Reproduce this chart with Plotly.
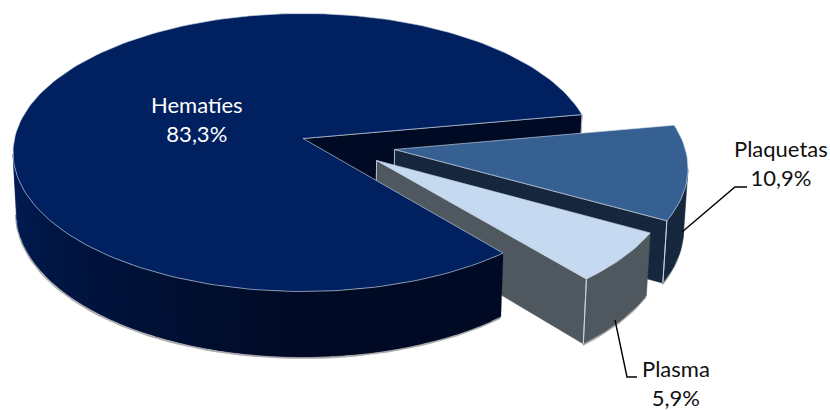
import math
import plotly.graph_objects as go

# ---- data ----
categories = ["Plaquetas", "Plasma", "Hematíes"]
values = [10.9, 5.9, 83.3]
value_labels = ["10,9%", "5,9%", "83,3%"]

# ---- styles ----
top_colors = ["#366092", "#c5d9f1", "#002060"]
side_colors = ["#16263c", "#50585f", "#000a24"]
explode = [(0.315, 0.079), (0.251, 0.157), (0.0, 0.0)]  # disc units
START_DEG = -10.2

# ---- projection of the tilted disc on the page ----
CX, CY = 303.0, 138.5
RX, RY, K = 288.5, 137.6, 0.1007
DEPTH, BOTTOM_SCALE = 58.8, 0.989
RIM = "rgba(205,215,230,0.85)"


def project(c, s, bottom=False):
    w = 1 - K * s
    x = RX * c / w
    y = RY * s / w
    if bottom:
        return CX + x * BOTTOM_SCALE, CY + y + DEPTH / w
    return CX + x, CY + y


def hexmix(a, b, t):
    pa = [int(a[i:i + 2], 16) for i in (1, 3, 5)]
    pb = [int(b[i:i + 2], 16) for i in (1, 3, 5)]
    return "#%02x%02x%02x" % tuple(round(p + (q - p) * t) for p, q in zip(pa, pb))


fig = go.Figure()


def poly(points, fill, line=None, width=0.75):
    fig.add_trace(go.Scatter(
        x=[p[0] for p in points] + [points[0][0]],
        y=[p[1] for p in points] + [points[0][1]],
        mode="lines", fill="toself", fillcolor=fill,
        line=dict(color=line or fill, width=width),
        hoverinfo="skip", showlegend=False))


def path(points, color, width=0.75):
    fig.add_trace(go.Scatter(
        x=[p[0] for p in points], y=[p[1] for p in points], mode="lines",
        line=dict(color=color, width=width), hoverinfo="skip", showlegend=False))


def arc(a0, a1, step=1.5):
    n = max(2, int(abs(a1 - a0) / step) + 1)
    return [a0 + (a1 - a0) * i / (n - 1) for i in range(n)]


def rim(a, off):
    r = math.radians(a)
    return math.cos(r) + off[0], math.sin(r) + off[1]


def front_facing(a, off):
    r = math.radians(a)
    c, s = math.cos(r), math.sin(r)
    return s > K * (1 + off[0] * c + off[1] * s)


def cut_faces(a0, a1, off, color):
    """Radial faces that turn towards the viewer."""
    v = off
    for a, inward in ((a0, a0 + 2), (a1, a1 - 2)):
        vx, vy = project(*v)
        rx, ry = project(*rim(a, off))
        ix, iy = project(*rim(inward, off))
        edge_y = vy + (ry - vy) * (ix - vx) / (rx - vx)
        if iy < edge_y:  # slice lies above this edge, so the face shows
            pts = [(vx, vy), (rx, ry), project(*rim(a, off), True), project(*v, True)]
            poly(pts, color)
            path(pts[:2], RIM)
            path([pts[1], pts[2]], RIM, 1)
            path([pts[0], pts[3]], RIM, 1)


def side_shade(a, base, lighter):
    # the lit end sits on the left of the pie, the dark end on the right
    return hexmix(base, lighter, max(0.0, min(1.0, (a - 90) / 85)))


def outer_side(a0, a1, off, base, lighter):
    vis = [a for a in arc(a0, a1, 2.5) if front_facing(a, off)]
    if len(vis) < 2:
        return
    low = [project(*rim(a, off), True) for a in arc(vis[0], vis[-1])]
    path([(x - 0.5, y + 1.2) for x, y in low], "rgba(90,90,90,0.5)", 1.8)
    if base == lighter:
        up = [project(*rim(a, off)) for a in arc(vis[0], vis[-1])]
        dn = [project(*rim(a, off), True) for a in arc(vis[-1], vis[0])]
        poly(up + dn, base, width=0.5)
        return
    # bands drawn from the right end to the left, each one lapping under the next
    for p, q in zip(vis[:-1], vis[1:]):
        q2 = min(q + 2.5, vis[-1])
        up = [project(*rim(a, off)) for a in arc(p, q2, 0.8)]
        dn = [project(*rim(a, off), True) for a in arc(q2, p, 0.8)]
        poly(up + dn, side_shade((p + q) / 2, base, lighter), width=0.3)


def top_face(a0, a1, off, color):
    pts = [project(*off)] + [project(*rim(a, off)) for a in arc(a0, a1)]
    poly(pts, color, line=RIM)


# angular spans taken from the values
total = sum(values)
spans, a = [], START_DEG
for v in values:
    spans.append((a, a + v / total * 360))
    a += v / total * 360

# painter's order: main cut face, exploded slices, then the big slice
m0, m1 = spans[2]
cut_faces(m0, m1, explode[2], side_colors[2])
for i in (0, 1):
    a0, a1 = spans[i]
    outer_side(a0, a1, explode[i], side_colors[i], side_colors[i])
    cut_faces(a0, a1, explode[i], side_colors[i])
    top_face(a0, a1, explode[i], top_colors[i])
    # vertical highlight on the corner between the faces
    path([project(*rim(a1, explode[i])), project(*rim(a1, explode[i]), True)], RIM, 1)
outer_side(m0, m1, explode[2], side_colors[2], "#001d57")
top_face(m0, m1, explode[2], top_colors[2])

# leader lines
fig.add_trace(go.Scatter(x=[682, 735, 747], y=[232, 187, 187], mode="lines",
                         line=dict(color="#000000", width=1.4),
                         hoverinfo="skip", showlegend=False))
fig.add_trace(go.Scatter(x=[615, 627, 637], y=[320, 377, 377], mode="lines",
                         line=dict(color="#000000", width=1.4),
                         hoverinfo="skip", showlegend=False))

label_pos = [(781, 163), (676, 383), (197, 119)]
label_col = ["#111111", "#111111", "#ffffff"]
for name, txt, (x, y), col in zip(categories, value_labels, label_pos, label_col):
    fig.add_annotation(x=x, y=y, xref="x", yref="y", text=f"{name}<br>{txt}",
                       showarrow=False, align="center",
                       font=dict(family="Lato, Open Sans, sans-serif", size=22, color=col))

fig.update_layout(
    width=830, height=410, margin=dict(l=0, r=0, t=0, b=0),
    paper_bgcolor="#ffffff", plot_bgcolor="#ffffff", showlegend=False,
    xaxis=dict(range=[0, 830], visible=False, fixedrange=True),
    yaxis=dict(range=[410, 0], visible=False, fixedrange=True),
)
fig.write_html("out.html", config={"displayModeBar": False},
               post_script="document.body.style.margin='0';")
